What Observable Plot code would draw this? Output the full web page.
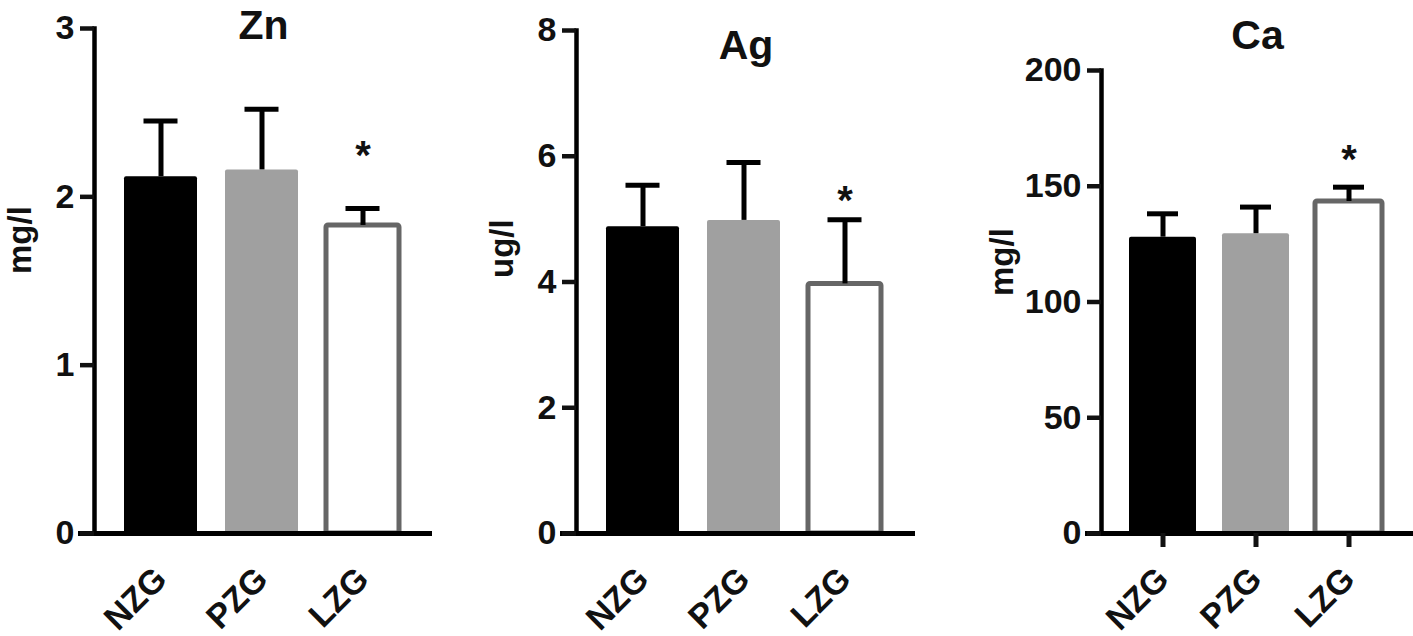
<!DOCTYPE html>
<html><head><meta charset="utf-8">
<script src="https://cdn.jsdelivr.net/npm/d3@7"></script>
<script src="https://cdn.jsdelivr.net/npm/@observablehq/plot@0.6"></script>
<style>
body{margin:0;background:#fff;}
#row{display:flex;width:1413px;height:636px;overflow:hidden;}
#row svg{display:block;overflow:visible;}
</style></head><body><div id="row"></div>
<script>
const groups = ["NZG", "PZG", "LZG"];
const fills = ["#000000", "#a0a0a0", "#ffffff"];
const outlines = ["none", "none", "#666666"];
const sig = ["", "", "*"];

const znMean = [2.12, 2.16, 1.83];
const znErr = [0.33, 0.36, 0.10];
const znTicks = [0, 1, 2, 3];
const znStar = 2.29;

const agMean = [4.88, 4.98, 3.97];
const agErr = [0.66, 0.92, 1.02];
const agTicks = [0, 2, 4, 6, 8];
const agStar = 5.42;

const caMean = [128, 129.5, 143.4];
const caErr = [10.1, 11.5, 6.2];
const caTicks = [0, 50, 100, 150, 200];
const caStar = 164.6;

const FONT = "'Liberation Sans', Arial, Helvetica, sans-serif";

function panel(o) {
  const data = groups.map((g, i) => ({
    g, mean: o.mean[i], upper: o.mean[i] + o.err[i],
    fill: fills[i], outline: outlines[i], sig: sig[i]
  }));
  return Plot.plot({
    width: o.width, height: 636,
    marginLeft: o.ml, marginRight: o.mr, marginTop: o.mt, marginBottom: 103,
    style: {fontFamily: FONT, fontWeight: "bold", color: "#111", background: "white", overflow: "visible"},
    color: {type: "identity"},
    x: {domain: groups, paddingInner: 0.275, paddingOuter: 0.31, align: 0.47},
    y: {domain: [0, o.ticks[o.ticks.length - 1]]},
    marks: [
      Plot.barY(data, {x: "g", y: "mean", fill: "fill", stroke: "outline", strokeWidth: 5, rx: 2}),
      Plot.ruleX(data, {x: "g", y1: "mean", y2: "upper", stroke: "#000", strokeWidth: 5}),
      Plot.tickY(data, {x: "g", y: "upper", stroke: "#000", strokeWidth: 5, insetLeft: o.capInset, insetRight: o.capInset}),
      Plot.text(data.filter(d => d.sig), {x: "g", y: () => o.star, text: "sig", fontSize: 40, fill: "#111", dy: 8}),
      Plot.ruleY([0], {stroke: "#000", strokeWidth: 5, insetLeft: -16}),
      Plot.frame({anchor: "left", stroke: "#000", strokeWidth: 4.5}),
      Plot.axisY({ticks: o.ticks, tickSize: 14, tickPadding: 6, strokeWidth: 4.5, label: null, fontSize: 34, tickFormat: d => String(d)}),
      Plot.axisX({tickRotate: -45, tickSize: o.xTick, tickPadding: o.xPad, strokeWidth: 5, label: null, fontSize: 34}),
      Plot.text([o.title], {frameAnchor: "top", text: d => d, dy: o.titleDy, fontSize: 41, lineAnchor: "bottom", fill: "#111"}),
      Plot.text([o.unit], {frameAnchor: "left", text: d => d, rotate: -90, dx: o.labelDx, dy: o.labelDy, fontSize: 33, fill: "#111"})
    ]
  });
}

const row = document.getElementById("row");
row.append(panel({title: "Zn", unit: "mg/l", mean: znMean, err: znErr, ticks: znTicks, star: znStar,
  width: 480, ml: 94, mr: 48, mt: 28, capInset: 19.5, xTick: 0, xPad: 40, titleDy: 10, labelDx: -74, labelDy: -7}));
row.append(panel({title: "Ag", unit: "ug/l", mean: agMean, err: agErr, ticks: agTicks, star: agStar,
  width: 480, ml: 96, mr: 45, mt: 30, capInset: 19.5, xTick: 0, xPad: 40, titleDy: 28, labelDx: -74, labelDy: -4}));
row.append(panel({title: "Ca", unit: "mg/l", mean: caMean, err: caErr, ticks: caTicks, star: caStar,
  width: 453, ml: 141, mr: 0, mt: 70, capInset: 18, xTick: 14, xPad: 26, titleDy: -22, labelDx: -99, labelDy: -6}));
</script></body></html>
